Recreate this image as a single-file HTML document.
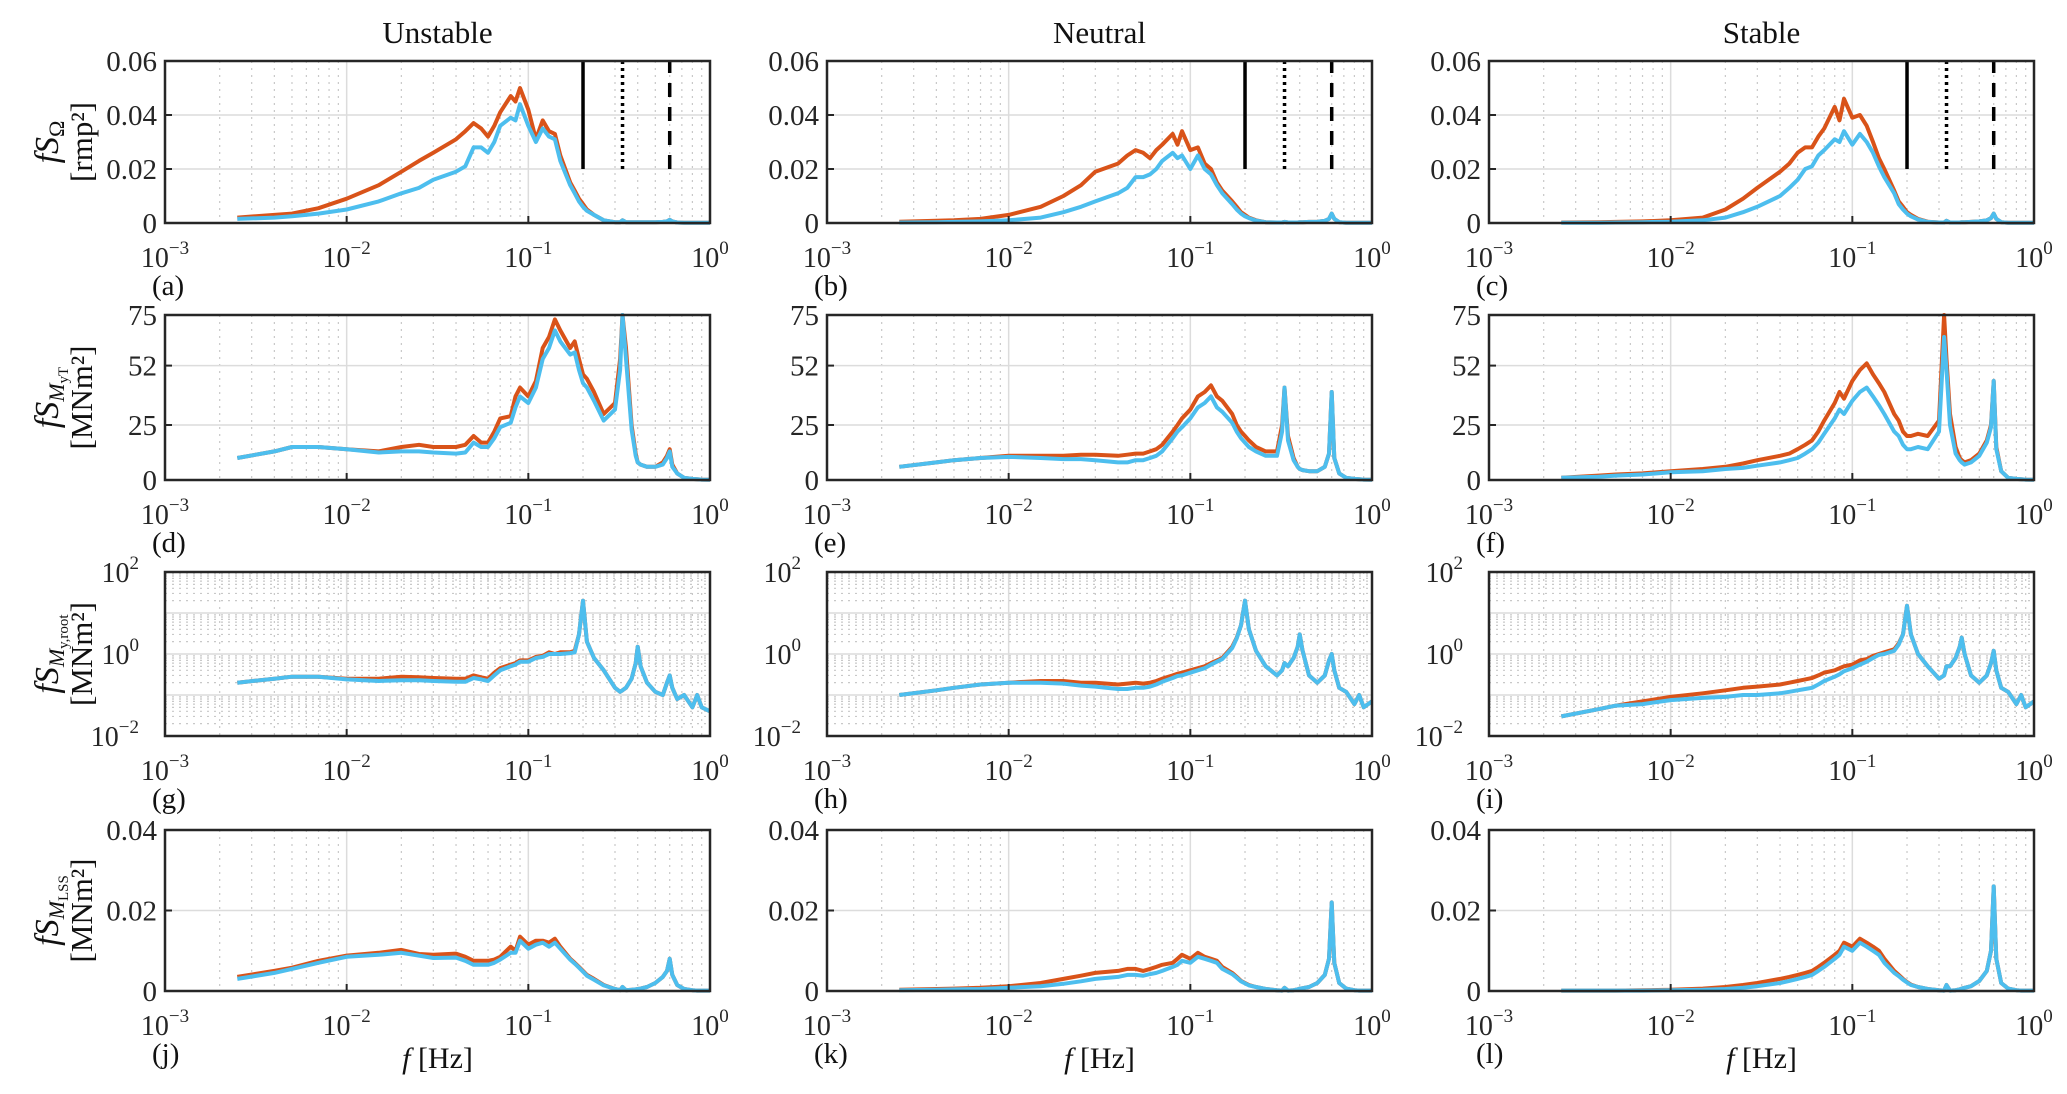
<!DOCTYPE html>
<html><head><meta charset="utf-8"><style>
html,body{margin:0;padding:0;background:#fff;}
svg{display:block;font-family:"Liberation Serif",serif;}
</style></head><body>
<svg id="fig" width="2067" height="1094" viewBox="0 0 2067 1094" xmlns="http://www.w3.org/2000/svg"></svg>
<script>
const freqs=[0.0025,0.004,0.005,0.007,0.01,0.015,0.02,0.025,0.03,0.04,0.045,0.05,0.055,0.06,0.065,0.07,0.08,0.085,0.09,0.1,0.11,0.12,0.13,0.14,0.15,0.17,0.18,0.19,0.2,0.21,0.23,0.26,0.3,0.32,0.33,0.345,0.37,0.39,0.4,0.415,0.45,0.5,0.55,0.58,0.6,0.62,0.66,0.72,0.8,0.85,0.9,1.0];
const colTitles=["Unstable","Neutral","Stable"];
const panelLetters=["a","b","c","d","e","f","g","h","i","j","k","l"];
const aR=[0.002,0.003,0.0035,0.0055,0.009,0.014,0.019,0.023,0.026,0.031,0.034,0.037,0.035,0.032,0.036,0.041,0.047,0.045,0.05,0.042,0.031,0.038,0.034,0.033,0.025,0.015,0.012,0.009,0.007,0.005,0.003,0.001,0.0003,0.0003,0.001,0.0003,0.0003,0.0003,0.0003,0.0003,0.0003,0.0003,0.0004,0.0006,0.0012,0.0006,0.0002,0.0001,0.0001,0.0001,0.0001,0.0001];
const aB=[0.0015,0.002,0.0025,0.0035,0.005,0.008,0.011,0.013,0.016,0.019,0.021,0.028,0.028,0.026,0.03,0.036,0.039,0.038,0.044,0.036,0.03,0.035,0.032,0.031,0.023,0.014,0.011,0.008,0.006,0.0045,0.003,0.001,0.0003,0.0003,0.001,0.0003,0.0003,0.0003,0.0003,0.0003,0.0003,0.0003,0.0004,0.0006,0.0012,0.0006,0.0002,0.0001,0.0001,0.0001,0.0001,0.0001];
const bR=[0.0005,0.0008,0.001,0.0015,0.003,0.006,0.01,0.014,0.019,0.022,0.025,0.027,0.026,0.024,0.027,0.029,0.033,0.029,0.034,0.027,0.028,0.022,0.02,0.015,0.012,0.008,0.006,0.004,0.003,0.002,0.001,0.0003,0.0002,0.0002,0.0004,0.0002,0.0002,0.0002,0.0003,0.0003,0.0004,0.0005,0.0008,0.0015,0.0035,0.0015,0.0003,0.0001,0.0001,0.0001,0.0001,0.0001];
const bB=[0.0002,0.0003,0.0004,0.0006,0.001,0.002,0.004,0.006,0.008,0.011,0.013,0.017,0.017,0.018,0.02,0.023,0.026,0.024,0.025,0.02,0.025,0.02,0.018,0.014,0.011,0.007,0.005,0.0035,0.0025,0.0018,0.0009,0.0003,0.0002,0.0002,0.0004,0.0002,0.0002,0.0002,0.0003,0.0003,0.0004,0.0005,0.0008,0.0015,0.0035,0.0015,0.0003,0.0001,0.0001,0.0001,0.0001,0.0001];
const cR=[0.0002,0.0003,0.0004,0.0006,0.001,0.002,0.005,0.009,0.013,0.019,0.022,0.026,0.028,0.028,0.032,0.035,0.043,0.038,0.046,0.039,0.04,0.036,0.03,0.024,0.02,0.012,0.008,0.006,0.004,0.003,0.0015,0.0005,0.0002,0.0002,0.0008,0.0002,0.0002,0.0002,0.0003,0.0003,0.0004,0.0006,0.001,0.0018,0.0035,0.0015,0.0003,0.0001,0.0001,0.0001,0.0001,0.0001];
const cB=[0.0001,0.0001,0.0002,0.0003,0.0005,0.001,0.002,0.004,0.006,0.01,0.013,0.016,0.02,0.021,0.025,0.027,0.031,0.03,0.034,0.029,0.033,0.03,0.026,0.021,0.017,0.011,0.007,0.005,0.0035,0.0025,0.0013,0.0004,0.0002,0.0002,0.0008,0.0002,0.0002,0.0002,0.0003,0.0003,0.0004,0.0006,0.001,0.0018,0.0035,0.0015,0.0003,0.0001,0.0001,0.0001,0.0001,0.0001];
const dR=[10,13,15,15,14,13,15,16,15,15,16,20,17,17,22,28,29,38,42,38,45,60,65,73,68,60,63,55,48,46,40,30,35,55,75,60,25,12,8,7,6,6,8,11,14,7,3,1,0.5,0.3,0.2,0.1];
const dB=[10,13,15,15,14,12.5,13,13,12.5,12,12.5,17,15,15,19,24,26,33,38,35,42,55,60,68,63,57,58,50,44,42,36,27,32,50,75,55,23,11,8,7,6,6,7,10,13,6,3,1,0.5,0.3,0.2,0.1];
const eR=[6,8,9,10,11,11,11,11.5,11.5,11,11.5,12,12,13,14,16,22,25,28,32,38,40,43,38,36,30,25,22,20,18,15,13,13,25,42,20,10,6,5,4.5,4,4,6,12,40,10,3,1,0.5,0.3,0.2,0.1];
const eB=[6,8,9,10,10.5,10,9.5,9.5,9,8,8,9,9,10,11,13,19,22,24,28,33,35,38,33,31,26,22,19,17,15,13,11,11,22,42,18,9,6,5,4.5,4,4,6,12,40,10,3,1,0.5,0.3,0.2,0.1];
const fR=[1,2,2.5,3,4,5,6,7.5,9,11,12,14,16,18,22,27,35,40,37,45,50,53,48,44,40,30,27,22,20,20,21,20,27,75,55,30,15,10,9,8,9,12,18,25,45,15,4,1,0.5,0.3,0.2,0.1];
const fB=[1,1.5,2,2.5,3.5,4,5,5.5,6.5,8,9,10,12,14,17,21,28,32,30,36,40,42,38,34,30,22,20,16,14,14,15,14,22,65,50,25,12,9,8,7,8,11,17,24,45,14,4,1,0.5,0.3,0.2,0.1];
const gR=[0.2,0.25,0.28,0.28,0.25,0.25,0.28,0.27,0.26,0.25,0.25,0.3,0.27,0.25,0.35,0.45,0.55,0.6,0.7,0.7,0.85,0.9,1.1,1.0,1.1,1.1,1.2,3,20,2,0.8,0.4,0.15,0.12,0.13,0.15,0.25,0.6,1.5,0.5,0.2,0.12,0.1,0.2,0.3,0.15,0.08,0.1,0.05,0.1,0.05,0.04];
const gB=[0.2,0.25,0.28,0.28,0.24,0.22,0.23,0.23,0.22,0.21,0.21,0.26,0.24,0.22,0.3,0.4,0.5,0.55,0.65,0.65,0.8,0.85,1.0,1.0,1.0,1.05,1.1,3,20,2,0.8,0.4,0.15,0.12,0.13,0.15,0.25,0.6,1.5,0.5,0.2,0.12,0.1,0.2,0.3,0.15,0.08,0.1,0.05,0.1,0.05,0.04];
const hR=[0.1,0.13,0.15,0.18,0.2,0.22,0.22,0.2,0.2,0.18,0.19,0.2,0.19,0.2,0.22,0.25,0.3,0.33,0.35,0.4,0.45,0.5,0.6,0.7,0.8,1.5,2.5,5,20,4,1.2,0.5,0.3,0.4,0.6,0.5,0.8,1.5,3,1.2,0.3,0.2,0.3,0.7,1,0.4,0.15,0.12,0.06,0.1,0.05,0.07];
const hB=[0.1,0.13,0.15,0.18,0.2,0.2,0.19,0.17,0.16,0.14,0.14,0.15,0.15,0.16,0.18,0.21,0.26,0.29,0.3,0.35,0.4,0.45,0.55,0.65,0.75,1.4,2.4,5,20,4,1.2,0.5,0.3,0.4,0.6,0.5,0.8,1.5,3,1.2,0.3,0.2,0.3,0.7,1,0.4,0.15,0.12,0.06,0.1,0.05,0.07];
const iR=[0.03,0.045,0.055,0.07,0.09,0.11,0.13,0.15,0.16,0.18,0.2,0.22,0.24,0.26,0.3,0.35,0.4,0.45,0.5,0.55,0.7,0.75,0.9,1.0,1.1,1.3,1.8,3,15,3,1,0.5,0.25,0.3,0.5,0.5,0.8,1.5,2.5,1,0.3,0.2,0.3,0.6,1.2,0.4,0.15,0.12,0.06,0.1,0.05,0.07];
const iB=[0.03,0.045,0.055,0.06,0.075,0.085,0.09,0.1,0.1,0.11,0.12,0.13,0.14,0.15,0.18,0.22,0.28,0.32,0.38,0.45,0.55,0.65,0.8,0.95,1.0,1.2,1.7,3,15,3,1,0.5,0.25,0.3,0.5,0.5,0.8,1.5,2.5,1,0.3,0.2,0.3,0.6,1.2,0.4,0.15,0.12,0.06,0.1,0.05,0.07];
const jR=[0.0035,0.005,0.0058,0.0075,0.0088,0.0095,0.0102,0.0092,0.009,0.0093,0.0085,0.0075,0.0075,0.0075,0.0078,0.0085,0.011,0.01,0.0135,0.0115,0.0125,0.0125,0.012,0.013,0.011,0.008,0.007,0.006,0.005,0.004,0.003,0.0015,0.0005,0.0002,0.001,0.0002,0.0003,0.0004,0.0005,0.0006,0.001,0.002,0.0035,0.005,0.008,0.004,0.0015,0.0005,0.0002,0.0001,0.0001,0.0001];
const jB=[0.003,0.0045,0.0055,0.007,0.0085,0.009,0.0095,0.0088,0.0082,0.0083,0.0075,0.0065,0.0065,0.0065,0.007,0.0078,0.0095,0.0095,0.0125,0.0105,0.0115,0.012,0.011,0.012,0.0105,0.0078,0.0068,0.0058,0.0048,0.0038,0.0028,0.0014,0.0005,0.0002,0.001,0.0002,0.0003,0.0004,0.0005,0.0006,0.001,0.002,0.0035,0.005,0.008,0.004,0.0015,0.0005,0.0002,0.0001,0.0001,0.0001];
const kR=[0.0003,0.0005,0.0006,0.0008,0.0012,0.002,0.003,0.0038,0.0045,0.005,0.0055,0.0055,0.005,0.0055,0.006,0.0065,0.007,0.008,0.009,0.008,0.0095,0.0085,0.008,0.0075,0.006,0.0045,0.0035,0.0025,0.002,0.0015,0.001,0.0005,0.0002,0.0001,0.0008,0.0001,0.0002,0.0004,0.0006,0.0007,0.001,0.002,0.004,0.008,0.022,0.007,0.002,0.0006,0.0002,0.0001,0.0001,0.0001];
const kB=[0.0002,0.0003,0.0004,0.0005,0.0008,0.0012,0.0018,0.0024,0.003,0.0035,0.004,0.004,0.0038,0.0042,0.0045,0.005,0.006,0.0065,0.0075,0.007,0.0085,0.008,0.0075,0.007,0.0055,0.0042,0.0033,0.0024,0.0019,0.0014,0.001,0.0005,0.0002,0.0001,0.0008,0.0001,0.0002,0.0004,0.0006,0.0007,0.001,0.002,0.004,0.008,0.022,0.007,0.002,0.0006,0.0002,0.0001,0.0001,0.0001];
const lR=[0.0001,0.0001,0.0001,0.0002,0.0003,0.0006,0.001,0.0015,0.002,0.003,0.0035,0.004,0.0045,0.005,0.006,0.007,0.009,0.01,0.012,0.011,0.013,0.012,0.011,0.01,0.008,0.005,0.004,0.003,0.0022,0.0016,0.001,0.0005,0.0002,0.0001,0.0015,0.0001,0.0002,0.0004,0.0006,0.0008,0.0012,0.0025,0.005,0.01,0.026,0.008,0.002,0.0006,0.0002,0.0001,0.0001,0.0001];
const lB=[0.0001,0.0001,0.0001,0.0001,0.0002,0.0003,0.0005,0.0008,0.0012,0.002,0.0025,0.003,0.0035,0.004,0.005,0.006,0.008,0.009,0.011,0.01,0.012,0.011,0.01,0.009,0.007,0.0045,0.0037,0.0028,0.0021,0.0015,0.001,0.0005,0.0002,0.0001,0.0015,0.0001,0.0002,0.0004,0.0006,0.0008,0.0012,0.0025,0.005,0.01,0.026,0.008,0.002,0.0006,0.0002,0.0001,0.0001,0.0001];
const redSeries=[aR,bR,cR,dR,eR,fR,gR,hR,iR,jR,kR,lR];
const blueSeries=[aB,bB,cB,dB,eB,fB,gB,hB,iB,jB,kB,lB];
const row1Ticks=["0","0.02","0.04","0.06"], row1TickVals=[0,0.02,0.04,0.06];
const row2Ticks=["0","25","52","75"], row2TickVals=[0,25,52,75];
const row4Ticks=["0","0.02","0.04"], row4TickVals=[0,0.02,0.04];
const markerFreqs=[0.2,0.33,0.6];
const markerRange=[0.02,0.06];

const NS="http://www.w3.org/2000/svg";
const svg=document.getElementById('fig');
const colLeft=[165,827,1489], PW=545;
const rowTop=[61,315,572,830], rowBot=[223,480,736,991];
const RED="#D95319", BLUE="#4DBEEE";
function mk(tag,attrs,parent){const e=document.createElementNS(NS,tag);for(const k in attrs)e.setAttribute(k,attrs[k]);(parent||svg).appendChild(e);return e;}
function xScale(c,f){return colLeft[c]+(Math.log10(f)+3)/3*PW;}

for(let r=0;r<4;r++){for(let c=0;c<3;c++){
  const idx=r*3+c, L=colLeft[c], R=L+PW, T=rowTop[r], B=rowBot[r];
  const g=mk('g',{});
  
  
  const isLog=(r===2);
  let ymin,ymax,tickVals,tickLbls;
  if(r===0){ymin=0;ymax=0.06;tickVals=row1TickVals;tickLbls=row1Ticks;}
  else if(r===1){ymin=0;ymax=75;tickVals=row2TickVals;tickLbls=row2Ticks;}
  else if(r===2){ymin=-2;ymax=2;}
  else {ymin=0;ymax=0.04;tickVals=row4TickVals;tickLbls=row4Ticks;}
  const yS=v=>{let t=isLog?Math.log10(Math.max(v,1e-3)):v;return B-(t-ymin)/(ymax-ymin)*(B-T);};
  for(let d=-3;d<0;d++){for(let m=1;m<10;m++){const f=m*Math.pow(10,d);const x=xScale(c,f);
    if(m===1){ if(d>-3) mk('line',{x1:x,x2:x,y1:T,y2:B,stroke:'#dcdcdc','stroke-width':1.5},g);}
    else mk('line',{x1:x,x2:x,y1:T,y2:B,stroke:'#c8c8c8','stroke-width':1.2,'stroke-dasharray':'2,5'},g);}}
  if(isLog){
    for(let d=-2;d<2;d++){for(let m=1;m<10;m++){const y=yS(m*Math.pow(10,d));
      if(m===1){ if(d>-2) mk('line',{x1:L,x2:R,y1:y,y2:y,stroke:'#dcdcdc','stroke-width':1.5},g);}
      else mk('line',{x1:L,x2:R,y1:y,y2:y,stroke:'#c8c8c8','stroke-width':1.2,'stroke-dasharray':'2,5'},g);}}
  } else {
    tickVals.forEach(v=>{if(v>ymin&&v<ymax){const y=yS(v);mk('line',{x1:L,x2:R,y1:y,y2:y,stroke:'#dcdcdc','stroke-width':1.5},g);}});
  }
  [[redSeries[idx],RED,'red'],[blueSeries[idx],BLUE,'blue']].forEach(([arr,col,nm])=>{
    let d='';arr.forEach((v,i)=>{d+=(i?'L':'M')+xScale(c,freqs[i]).toFixed(1)+','+yS(v).toFixed(1);});
    const p=mk('path',{d:d,fill:'none',stroke:col,'stroke-width':4,'stroke-linejoin':'round'},g);
    
    
  });
  if(r===0){
    const dashes=[null,'3,4','14,10'];
    markerFreqs.forEach((f,k)=>{const x=xScale(c,f);
      const a={x1:x,x2:x,y1:yS(markerRange[0]),y2:yS(markerRange[1]),stroke:'#000','stroke-width':3.5};
      if(dashes[k])a['stroke-dasharray']=dashes[k];
      const ln=mk('line',a,g);
      
      });
  }
  mk('rect',{x:L,y:T,width:PW,height:B-T,fill:'none',stroke:'#262626','stroke-width':2.5},g);
  for(let d=-3;d<=0;d++){const x=xScale(c,Math.pow(10,d));
    mk('line',{x1:x,x2:x,y1:B,y2:B-7,stroke:'#262626','stroke-width':2},g);
    const t=mk('text',{x:x,y:B+44,'text-anchor':'middle','font-size':28,fill:'#262626'},g);
    
    
    t.textContent='10';const s=mk('tspan',{dy:-13,'font-size':19},t);s.textContent=d===0?'0':'−'+(-d);}
  if(isLog){[-2,0,2].forEach(e=>{const y=yS(Math.pow(10,e));
      const t=mk('text',{x:L-26,y:y+10,'text-anchor':'end','font-size':28,fill:'#262626'},g);
      
      
      t.textContent='10';const s=mk('tspan',{dy:-13,'font-size':19},t);s.textContent=e<0?'−'+(-e):String(e);});}
  else tickVals.forEach((v,k)=>{const y=yS(v);
      mk('line',{x1:L,x2:L+7,y1:y,y2:y,stroke:'#262626','stroke-width':2},g);
      const t=mk('text',{x:L-8,y:y+10,'text-anchor':'end','font-size':29,fill:'#262626'},g);
      
      
      t.textContent=tickLbls[k];});
  const pl=mk('text',{x:L-13,y:B+72,'font-size':29,fill:'#111'},g);
  
  
  pl.textContent='('+panelLetters[idx]+')';
}}
colTitles.forEach((s,c)=>{const t=mk('text',{x:colLeft[c]+PW/2,y:43,'text-anchor':'middle','font-size':31,fill:'#111'});
  
  
  t.textContent=s;});
for(let c=0;c<3;c++){const t=mk('text',{x:colLeft[c]+PW/2,y:1068,'text-anchor':'middle','font-size':30,fill:'#111'});
  
  
  const a=mk('tspan',{'font-style':'italic'},t);a.textContent='f';const b=mk('tspan',{},t);b.textContent='  [Hz]';}
const yTitles=[["fS","Ω","[rmp²]"],["fS","M","[MNm²]","yT"],["fS","M","[MNm²]","y,root"],["fS","M","[MNm²]","LSS"]];
yTitles.forEach((yt,r)=>{const cy=(rowTop[r]+rowBot[r])/2;
  const t1=mk('text',{transform:'translate(58,'+cy+') rotate(-90)','text-anchor':'middle','font-size':34,fill:'#111'});
  
  
  const a=mk('tspan',{'font-style':'italic'},t1);a.textContent=yt[0];
  const b=mk('tspan',{'font-size':22,dy:6,'font-style':r===0?'normal':'italic'},t1);b.textContent=yt[1];
  if(yt[3]){const s=mk('tspan',{'font-size':15,dy:4},t1);s.textContent=yt[3];}
  const t2=mk('text',{transform:'translate(92,'+cy+') rotate(-90)','text-anchor':'middle','font-size':31,fill:'#111'});
  
  
  t2.textContent=yt[2];});
</script>
</body></html>
